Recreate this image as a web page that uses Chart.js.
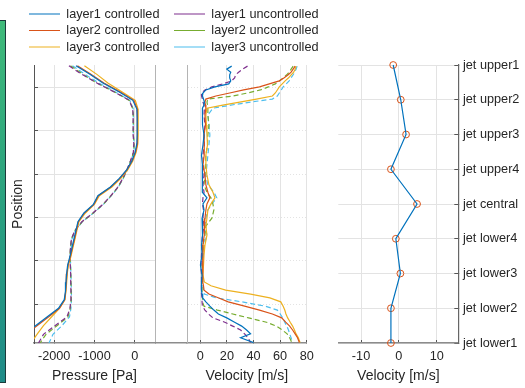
<!DOCTYPE html>
<html><head><meta charset="utf-8">
<script src="https://cdn.jsdelivr.net/npm/chart.js@4/dist/chart.umd.min.js"></script>
<style>
html,body{margin:0;padding:0;background:#fff;}
#wrap{position:relative;width:525px;height:388px;overflow:hidden;background:#fff;}
canvas{position:absolute;top:0;}
#cA{left:0}
#cB{left:150px}
#cC{left:320px}
#bar{position:absolute;left:0;top:20px;width:5px;height:361px;background:linear-gradient(#3fba7a,#2aa17f 50%,#1f8b88);border:1px solid #1c3b3b;border-left:none;}
</style></head><body>
<div id="wrap">
<div id="bar"></div>
<canvas id="cA" width="165" height="388"></canvas>
<canvas id="cB" width="190" height="388"></canvas>
<canvas id="cC" width="205" height="388"></canvas>
</div>
<script>
// ---------- data ----------
const seriesNames = ['layer1 controlled','layer2 controlled','layer3 controlled','layer1 uncontrolled','layer2 uncontrolled','layer3 uncontrolled'];

const posTicks = [10, 20, 30, 40, 50, 60];
const pressureTicks = [-2000, -1000, 0];
const velocityTicks = [0, 20, 40, 60, 80];
const jetTicks = [-10, 0, 10];

// positions for the pressure profiles
const posP = [65, 63, 61, 59, 57, 55, 53, 51, 49, 47, 45, 43, 41, 39, 37, 35, 33, 31, 29, 27, 25, 23, 21, 19, 17, 15, 13, 11, 9, 7, 5, 3, 1];
const pL1c = [-1460, -1114, -792, -396, -50, 50, 57, 57, 57, 50, 7, -74, -198, -384, -606, -916, -1027, -1262, -1411, -1460, -1510, -1559, -1609, -1666, -1690, -1708, -1720, -1750, -1893, -2178, -2463, -2747, -3027];
const pL2c = [-1423, -1089, -767, -371, -25, 62, 67, 67, 67, 57, 17, -67, -191, -371, -594, -903, -1015, -1250, -1398, -1448, -1497, -1547, -1596, -1658, -1683, -1700, -1713, -1737, -1869, -2141, -2426, -2710, -2995];
const pL3c = [-1250, -941, -668, -322, 12, 79, 82, 82, 82, 75, 32, -50, -173, -347, -569, -879, -1002, -1225, -1386, -1436, -1485, -1535, -1584, -1646, -1676, -1690, -1708, -1733, -1869, -2067, -2265, -2426, -2574];
const pL1u = [-1634, -1312, -941, -520, -136, -50, -42, -42, -42, -25, -37, -111, -198, -297, -421, -594, -792, -1040, -1312, -1485, -1572, -1596, -1609, -1601, -1591, -1589, -1584, -1584, -1609, -1683, -1980, -2265, -2388];
const pL2u = [-1596, -1287, -941, -520, -136, -50, -37, -37, -37, -17, -30, -104, -191, -290, -413, -587, -785, -1032, -1304, -1485, -1572, -1596, -1609, -1596, -1589, -1584, -1579, -1577, -1601, -1658, -1931, -2203, -2351];
const pL3u = [-1547, -1238, -891, -495, -124, -37, -37, -37, -37, -12, -25, -99, -186, -285, -408, -582, -780, -1027, -1299, -1473, -1559, -1584, -1601, -1591, -1584, -1579, -1572, -1572, -1584, -1621, -1807, -2030, -2129];

// positions for the velocity profiles
const posV = [64.9, 64.2, 63.5, 62.9, 62.2, 61.5, 60.8, 60.1, 59.4, 58.7, 58.0, 57.3, 56.6, 55.9, 55.2, 53.6, 51.3, 49.0, 46.7, 44.4, 42.1, 39.8, 37.5, 35.8, 34.5, 33.1, 31.7, 29.8, 28.0, 25.9, 23.6, 21.3, 19.0, 16.7, 15.1, 14.2, 13.2, 12.3, 11.4, 10.5, 9.5, 8.6, 7.7, 6.8, 5.8, 4.9, 4.0, 3.1, 2.2, 1.1];
const vL1c = [23.6, 19.9, 22.9, 22.1, 22.1, 22.9, 21.4, 11.0, 4.2, 2.0, 1.6, 2.4, 3.1, 2.8, 1.6, 2.0, 1.3, 2.8, 2.0, 0.9, 1.6, 1.3, 2.0, 1.3, 5.0, 2.0, 2.8, 1.3, 2.0, 1.3, 0.9, 1.3, 0.1, 1.3, 0.9, 0.9, 0.9, 1.3, 1.8, 4.2, 7.2, 10.2, 13.6, 19.9, 25.8, 31.1, 34.8, 37.8, 30.3, 40.0];
const vL2c = [71.3, 69.8, 68.3, 66.1, 63.1, 59.4, 51.9, 44.5, 32.6, 22.1, 11.7, 4.2, 3.5, 3.9, 4.2, 3.5, 3.9, 2.8, 3.1, 2.8, 2.0, 3.5, 4.2, 5.7, 7.2, 5.0, 4.2, 3.5, 3.1, 2.8, 2.0, 2.0, 1.6, 1.6, 2.0, 2.4, 2.8, 6.5, 13.9, 21.0, 33.3, 44.5, 54.2, 61.2, 64.2, 67.2, 69.4, 71.3, 73.1, 74.5];
const vL3c = [72.0, 71.3, 70.2, 68.3, 66.4, 63.8, 61.6, 59.4, 57.9, 56.4, 54.2, 42.2, 29.6, 16.9, 5.0, 4.2, 4.6, 5.0, 5.4, 4.2, 4.2, 5.0, 6.5, 9.5, 11.0, 8.0, 5.7, 5.0, 4.2, 5.0, 3.5, 2.8, 2.4, 2.0, 3.0, 8.0, 19.1, 37.8, 52.3, 60.5, 62.3, 63.5, 64.4, 65.7, 67.6, 69.4, 70.8, 72.0, 73.7, 75.0];
const vL1u = [35.5, 31.8, 28.8, 26.6, 25.8, 23.6, 16.9, 8.7, 3.5, 0.9, 0.9, 1.6, 2.0, 2.8, 3.1, 2.8, 3.5, 2.8, 3.1, 2.0, 2.4, 2.8, 2.0, 2.8, 2.0, 1.6, 2.4, 2.0, 2.8, 1.6, 1.3, 0.9, 0.5, 0.9, 0.9, 0.9, 0.9, 0.9, 1.3, 1.3, 1.6, 3.5, 6.1, 9.5, 18.4, 24.4, 30.3, 33.3, 35.9, 37.8];
const vL2u = [69.8, 68.3, 66.8, 65.0, 62.3, 59.7, 56.4, 51.2, 45.2, 35.5, 24.4, 5.7, 5.0, 5.4, 5.7, 5.7, 6.5, 5.7, 5.4, 4.2, 3.9, 3.5, 2.8, 5.0, 8.0, 9.5, 10.2, 8.7, 4.2, 3.5, 2.0, 1.6, 1.3, 1.3, 1.3, 1.3, 1.3, 1.6, 1.6, 1.6, 2.8, 12.8, 24.4, 36.3, 49.7, 57.1, 61.6, 65.3, 67.2, 68.8];
const vL3u = [72.8, 72.0, 70.9, 69.8, 68.3, 66.8, 64.6, 62.3, 60.9, 59.4, 57.9, 54.2, 37.8, 22.9, 9.5, 5.7, 6.5, 7.2, 6.5, 5.7, 5.0, 4.2, 5.7, 10.2, 12.4, 8.7, 5.7, 4.2, 3.5, 5.0, 2.8, 2.0, 1.6, 1.6, 2.0, 2.0, 2.4, 3.0, 12.4, 31.1, 48.9, 57.9, 60.1, 62.0, 63.5, 65.0, 66.3, 67.2, 68.3, 69.1];

// jet velocities
const jetLabels = ['jet upper1','jet upper2','jet upper3','jet upper4','jet central','jet lower4','jet lower3','jet lower2','jet lower1'];
const jetVel = [-1.5, 0.5, 1.9, -2.1, 4.8, -0.8, 0.4, -2.1, -2.1];

// ---------- styling ----------
Chart.defaults.font.family = 'Liberation Sans, Arial, Helvetica, sans-serif';
Chart.defaults.font.size = 12.7;
Chart.defaults.color = '#262626';
Chart.defaults.animation = false;

const GRID = '#e3e3e3';
const AXIS = '#8c8c8c';
const DOT = '#b4b4b4';
const TICK = '#555555';
const TXT = '#262626';
const colors = ['#0072BD','#D95319','#EDB120','#7E2F8E','#77AC30','#4DBEEE'];

const setTicks = arr => s => { s.ticks = arr.map(v => ({value: v})); };

function mkSets(pos, series) {
  return series.map((vals, k) => ({
    label: seriesNames[k],
    data: vals.map((v, i) => ({x: v, y: pos[i]})),
    borderColor: colors[k],
    backgroundColor: colors[k],
    borderWidth: 1.2,
    borderDash: k >= 3 ? [5, 3] : [],
    pointRadius: 0,
    pointHoverRadius: 0,
    tension: 0,
    fill: false,
    xAxisID: 'x',
    yAxisID: 'y'
  }));
}

function xAxis(min, max, tickArr, title) {
  return {
    type: 'linear', position: 'bottom', min: min, max: max,
    afterBuildTicks: setTicks(tickArr),
    grid: { color: GRID, lineWidth: 1, tickLength: -3, tickColor: TICK, drawTicks: true },
    border: { display: true, color: AXIS, width: 1.5 },
    ticks: { padding: 9.08, color: TXT, font: {size: 12.7}, maxRotation: 0, autoSkip: false, callback: v => String(v) },
    title: { display: true, text: title, color: TXT, font: {size: 14}, padding: {top: -6.1, bottom: 3.9} }
  };
}

const topSpacer = {
  type: 'linear', position: 'top', display: true,
  grid: { display: false }, ticks: { display: false }, border: { display: false },
  afterFit: s => { s.height = 1.65; }
};

function rightSpacer(width, border) {
  return {
    type: 'linear', position: 'right', min: 1, max: 65.16, display: true,
    grid: { display: false }, ticks: { display: false },
    border: border,
    afterFit: s => { s.width = width; }
  };
}

function legendCfg(filterFn) {
  return {
    display: true, position: 'top', align: 'start',
    labels: {
      usePointStyle: true, pointStyle: 'line', pointStyleWidth: 31,
      padding: 3.8, color: TXT, font: {size: 12.7}, filter: filterFn
    }
  };
}

// ---------- chart A : pressure ----------
new Chart(document.getElementById('cA'), {
  type: 'line',
  data: { datasets: mkSets(posP, [pL1c, pL2c, pL3c, pL1u, pL2u, pL3u]) },
  options: {
    responsive: false, animation: false, events: [],
    layout: { padding: { left: 25.2, top: 3.85, right: 0, bottom: 0 } },
    plugins: { legend: legendCfg(item => item.datasetIndex < 3), tooltip: { enabled: false } },
    scales: {
      x: xAxis(-2500, 500, pressureTicks, 'Pressure [Pa]'),
      y: {
        type: 'linear', position: 'left', min: 1, max: 65.16,
        afterBuildTicks: setTicks(posTicks),
        afterFit: s => { s.width = 8.8; },
        grid: { color: GRID, tickLength: -4, tickColor: TICK },
        border: { color: '#555555', width: 1 },
        ticks: { display: false },
        title: { display: true, text: 'Position', color: TXT, font: {size: 14}, padding: {top: -15.6, bottom: 0} }
      },
      yR: rightSpacer(10, { display: true, color: DOT, width: 1, dash: [1, 2] }),
      xTop: topSpacer
    }
  }
});

// ---------- chart B : velocity ----------
const gapLine = {
  id: 'gapLine',
  afterDraw(chart) {
    const ctx = chart.ctx, sx = chart.scales.x;
    const y = Math.round(sx.top - 0.75) + 0.75;
    ctx.save();
    ctx.strokeStyle = AXIS; ctx.lineWidth = 1.5;
    ctx.beginPath(); ctx.moveTo(5, y); ctx.lineTo(chart.chartArea.left, y); ctx.stroke();
    ctx.restore();
  }
};
new Chart(document.getElementById('cB'), {
  type: 'line',
  data: { datasets: mkSets(posV, [vL1c, vL2c, vL3c, vL1u, vL2u, vL3u]) },
  options: {
    responsive: false, animation: false, events: [],
    layout: { padding: { left: 20.2, top: 3.85, right: 0, bottom: 0 } },
    plugins: { legend: legendCfg(item => item.datasetIndex >= 3), tooltip: { enabled: false } },
    scales: {
      x: xAxis(-10, 80, velocityTicks, 'Velocity [m/s]'),
      y: {
        type: 'linear', position: 'left', min: 1, max: 65.16,
        afterBuildTicks: setTicks(posTicks),
        afterFit: s => { s.width = 16.8; },
        grid: { color: GRID, drawTicks: false },
        border: { color: DOT, width: 1, dash: [1, 2] },
        ticks: { display: false }
      },
      yR: rightSpacer(33.3, { display: false }),
      xTop: topSpacer
    }
  },
  plugins: [gapLine]
});

// ---------- chart C : jets ----------
new Chart(document.getElementById('cC'), {
  type: 'line',
  data: {
    labels: jetLabels,
    datasets: [
      { data: jetVel, borderColor: '#0072BD', backgroundColor: '#0072BD', borderWidth: 1.2, pointRadius: 0, pointHoverRadius: 0, fill: false, xAxisID: 'x', yAxisID: 'y' },
      { data: jetVel, showLine: false, pointRadius: 3.4, pointHoverRadius: 3.4, pointBorderWidth: 1,
        pointBorderColor: '#D95319', pointBackgroundColor: 'rgba(0,0,0,0)', borderColor: '#D95319', backgroundColor: 'rgba(0,0,0,0)', clip: false, xAxisID: 'x', yAxisID: 'y' }
    ]
  },
  options: {
    indexAxis: 'y', responsive: false, animation: false, events: [],
    layout: { padding: { left: 18.3, top: 65, right: 0, bottom: 0 } },
    plugins: { legend: { display: false }, tooltip: { enabled: false } },
    scales: {
      x: xAxis(-16, 15.7, jetTicks, 'Velocity [m/s]'),
      y: {
        type: 'category', position: 'right',
        afterFit: s => { s.width = 66.7; },
        grid: { color: GRID, tickLength: -4, tickColor: TICK },
        border: { color: '#666666', width: 1.2 },
        ticks: { padding: 8.7, color: TXT, autoSkip: false, font: {size: 12.7} }
      }
    }
  }
});
</script>
</body></html>
